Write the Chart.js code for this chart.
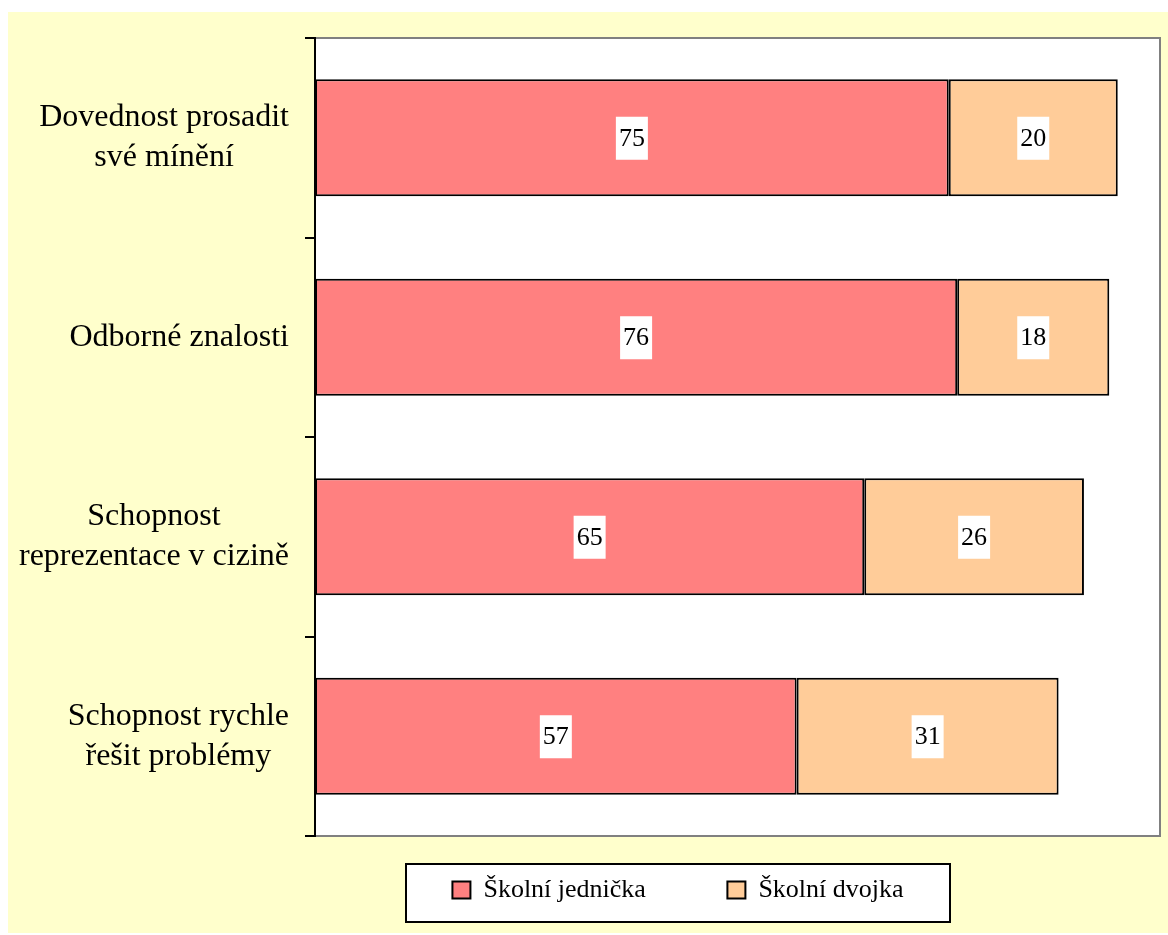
<!DOCTYPE html>
<html>
<head>
<meta charset="utf-8">
<script src="https://cdn.jsdelivr.net/npm/chart.js@4"></script>
<style>
  body { margin: 0; background: #ffffff; }
  canvas { display: block; }
</style>
</head>
<body>
<canvas id="skillsChart" width="1168" height="935"></canvas>
<script>
// ─── DATA ───
const categories = [
    ['Dovednost prosadit', 'své mínění'],
    ['Odborné znalosti'],
    ['Schopnost', 'reprezentace v cizině'],
    ['Schopnost rychle', 'řešit problémy']
];
const seriesNames = ['Školní jednička', 'Školní dvojka'];
const jednickaValues = [75, 76, 65, 57];
const dvojkaValues = [20, 18, 26, 31];

const SERIF = '"Liberation Serif", "Times New Roman", serif';

// ─── BACKGROUND, PLOT AREA AND LEGEND FRAME ───
const backdropPlugin = {
    id: 'backdrop',
    afterLayout(chart) {
        // excel puts the legend box off-centre, move it there
        chart.legend.left = 406;
        chart.legend.right = 950;
    },
    beforeDraw(chart) {
        const ctx = chart.ctx;
        const a = chart.chartArea;
        ctx.save();
        ctx.fillStyle = '#FFFFCC';
        ctx.fillRect(8, 12, 1160, 921);

        ctx.fillStyle = '#ffffff';
        ctx.fillRect(a.left, a.top, a.right - a.left, a.bottom - a.top);
        ctx.strokeStyle = '#808080';
        ctx.lineWidth = 2;
        ctx.strokeRect(a.left, a.top, a.right - a.left, a.bottom - a.top);

        const lg = chart.legend;
        ctx.fillStyle = '#ffffff';
        ctx.fillRect(lg.left, lg.top - 3, lg.right - lg.left, 58);
        ctx.strokeStyle = '#000000';
        ctx.strokeRect(lg.left, lg.top - 3, lg.right - lg.left, 58);
        ctx.restore();
    }
};

// ─── CATEGORY LABELS (centred lines, block right aligned) ───
const categoryLabelPlugin = {
    id: 'categoryLabels',
    afterDraw(chart) {
        const ctx = chart.ctx;
        const yScale = chart.scales.y;
        ctx.save();
        ctx.font = '32px ' + SERIF;
        ctx.fillStyle = '#000000';
        ctx.textAlign = 'center';
        ctx.textBaseline = 'middle';
        categories.forEach((lines, i) => {
            const yc = yScale.getPixelForTick(i);
            const blockW = Math.max(...lines.map(l => ctx.measureText(l).width));
            const xc = 289 - blockW / 2;
            lines.forEach((line, j) => {
                ctx.fillText(line, xc, yc + (j - (lines.length - 1) / 2) * 40);
            });
        });
        ctx.restore();
    }
};

// ─── VALUE LABELS IN WHITE BOXES ───
const valueLabelPlugin = {
    id: 'valueLabels',
    afterDatasetsDraw(chart) {
        const ctx = chart.ctx;
        ctx.save();
        ctx.font = '26px ' + SERIF;
        ctx.textAlign = 'center';
        ctx.textBaseline = 'middle';
        chart.data.datasets.forEach((ds, di) => {
            chart.getDatasetMeta(di).data.forEach((bar, i) => {
                const text = String(ds.data[i]);
                const cx = (bar.x + bar.base) / 2;
                const w = ctx.measureText(text).width + 6;
                ctx.fillStyle = '#ffffff';
                ctx.fillRect(cx - w / 2, bar.y - 21, w, 43);
                ctx.fillStyle = '#000000';
                ctx.fillText(text, cx, bar.y + 1);
            });
        });
        ctx.restore();
    }
};

// ─── CREATE THE CHART ───
const ctx = document.getElementById('skillsChart').getContext('2d');
const skillsChart = new Chart(ctx, {
    type: 'bar',
    data: {
        labels: categories,
        datasets: [
            {
                label: seriesNames[0],
                data: jednickaValues,
                backgroundColor: '#FF8080',
                borderColor: '#000000',
                borderWidth: 2,
                borderSkipped: false
            },
            {
                label: seriesNames[1],
                data: dvojkaValues,
                backgroundColor: '#FFCC99',
                borderColor: '#000000',
                borderWidth: 2,
                borderSkipped: false
            }
        ]
    },
    options: {
        indexAxis: 'y',
        responsive: false,
        animation: false,
        datasets: {
            bar: { categoryPercentage: 1, barPercentage: 0.587 }
        },
        layout: {
            padding: { top: 38, right: 8, bottom: 22, left: 0 }
        },
        scales: {
            x: {
                stacked: true,
                min: 0,
                max: 100,
                ticks: { display: false },
                grid: { display: false },
                border: { display: false },
                afterFit: s => { s.height = 31; }
            },
            y: {
                stacked: true,
                ticks: { display: false },
                grid: {
                    offset: true,
                    drawOnChartArea: false,
                    tickLength: 10,
                    color: '#000000',
                    lineWidth: 2
                },
                border: { color: '#000000', width: 2 },
                afterFit: s => { s.width = 315; }
            }
        },
        plugins: {
            tooltip: { enabled: false },
            legend: {
                position: 'bottom',
                labels: {
                    font: { family: SERIF, size: 26 },
                    color: '#000000',
                    boxWidth: 18,
                    boxHeight: 17,
                    padding: 10,
                    generateLabels(chart) {
                        const items = Chart.defaults.plugins.legend.labels.generateLabels(chart);
                        items[0].text = items[0].text + '           ';
                        return items;
                    }
                }
            }
        }
    },
    plugins: [backdropPlugin, categoryLabelPlugin, valueLabelPlugin]
});
</script>
</body>
</html>
